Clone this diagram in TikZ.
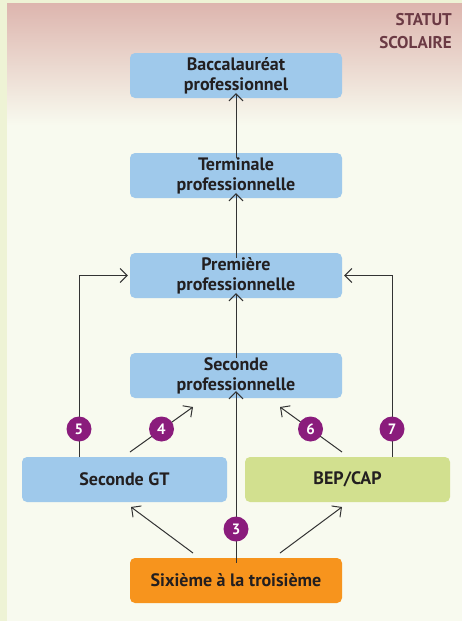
\documentclass[tikz,border=0pt]{standalone}
\usepackage{fontspec}
\setmainfont{PT Sans}
\usetikzlibrary{arrows.meta}
\definecolor{bgside}{HTML}{EEF3D5}
\definecolor{bgmain}{HTML}{F8FAEF}
\definecolor{bgtop}{HTML}{DDB5AE}
\definecolor{boxblue}{HTML}{9FC9EB}
\definecolor{boxgreen}{HTML}{D2E08F}
\definecolor{boxorange}{HTML}{F7941D}
\definecolor{badgepurple}{HTML}{8A1C7C}
\definecolor{txtdark}{HTML}{231F20}
\definecolor{statut}{HTML}{6B3A44}
\definecolor{linegray}{HTML}{333333}
\tikzset{
  stagebox/.style={rounded corners=5pt, minimum width=212pt, minimum height=45pt,
    align=center, font=\bfseries\fontsize{18}{20}\selectfont, text=txtdark, inner sep=0pt},
  widebox/.style={stagebox, minimum width=205pt},
  badge/.style={circle, fill=badgepurple, minimum size=25pt, inner sep=0pt,
    text=white, font=\bfseries\fontsize{15}{15}\selectfont},
  link/.style={draw=linegray, line width=1pt, -{Straight Barb[length=7pt,width=14pt,line width=1pt]}}
}
\begin{document}
\begin{tikzpicture}[x=1pt,y=-1pt]
\useasboundingbox (0,0) rectangle (462,621);
\fill[bgside] (0,0) rectangle (462,621);
\fill[bgmain] (7,3) rectangle (462,621);
\shade[top color=bgtop, bottom color=bgmain] (7,3) rectangle (462,125);
\node[anchor=north east, align=right, text=statut, font=\bfseries\fontsize{17}{23}\selectfont, inner sep=0pt] (statut) at (452,13) {STATUT\\SCOLAIRE};

\node[stagebox, fill=boxblue] (bac) at (236,75.5) {Baccalauréat\\professionnel};
\node[stagebox, fill=boxblue] (term) at (236,175.5) {Terminale\\professionnelle};
\node[stagebox, fill=boxblue] (prem) at (236,275.5) {Première\\professionnelle};
\node[stagebox, fill=boxblue] (sec) at (236,375.5) {Seconde\\professionnelle};
\node[widebox, fill=boxblue] (gt) at (124.5,479.5) {Seconde GT};
\node[widebox, fill=boxgreen] (bep) at (347.5,479.5) {BEP/CAP};
\node[stagebox, fill=boxorange] (six) at (236,580.5) {Sixième à la troisième};

\coordinate (a5) at (79,457);
\coordinate (a7) at (392,457);
\draw[link] ([yshift=-5pt]term.north) -- ([yshift=5pt]bac.south);
\draw[link] ([yshift=-5pt]prem.north) -- ([yshift=5pt]term.south);
\draw[link] ([yshift=-5pt]sec.north) -- ([yshift=5pt]prem.south);
\draw[link] (a5) |- ([xshift=-2pt]prem.west);
\draw[link] (a7) |- ([xshift=2pt]prem.east);
\coordinate (s4) at (130,452);
\coordinate (e4) at (193,407);
\coordinate (s6) at (342,452);
\coordinate (e6) at (280,407);
\draw[link] (s4) -- (e4);
\draw[link] (s6) -- (e6);
\draw[link] ([yshift=-5pt]six.north) -- ([yshift=7pt]sec.south);
\coordinate (s1) at (193,553);
\coordinate (e1) at (131,507);
\coordinate (s2) at (280,553);
\coordinate (e2) at (342,507);
\draw[link] (s1) -- (e1);
\draw[link] (s2) -- (e2);

\node[badge] (b5) at (79,429) {5};
\node[badge] (b4) at (161.5,429) {4};
\node[badge] (b6) at (310.5,429) {6};
\node[badge] (b7) at (392,429) {7};
\node[badge] (b3) at (236,529) {3};
\end{tikzpicture}
\end{document}
